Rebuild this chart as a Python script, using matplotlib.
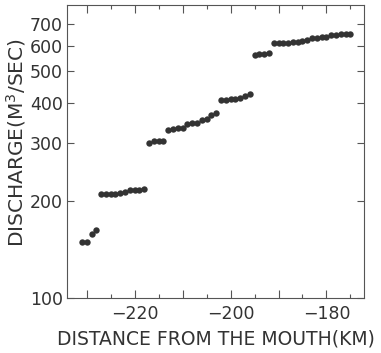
"""Discharge along the river vs distance from the mouth."""

import matplotlib

matplotlib.use("Agg")
import matplotlib.pyplot as plt
from matplotlib.ticker import FixedLocator, FixedFormatter, NullLocator

# distance from the mouth (km) and discharge (m3/s)
distance_km = [
    -231, -230, -229, -228,
    -227, -226, -225, -224, -223, -222, -221, -220, -219, -218,
    -217, -216, -215, -214,
    -213, -212, -211, -210,
    -209, -208, -207, -206, -205, -204, -203,
    -202, -201, -200, -199, -198, -197, -196,
    -195, -194, -193, -192,
    -191, -190, -189, -188, -187, -186, -185, -184, -183, -182, -181,
    -180, -179, -178, -177, -176, -175,
]
discharge = [
    149, 149, 158, 162,
    209, 209, 209, 209, 211, 213, 215, 215, 216, 217,
    300, 306, 306, 305,
    330, 333, 334, 334,
    344, 346, 347, 354, 356, 367, 372,
    407, 409, 411, 412, 414, 421, 426,
    562, 566, 567, 569,
    612, 612, 611, 612, 614, 616, 618, 622, 633, 634, 636,
    638, 645, 648, 650, 652, 652,
]

y_ticks = [100, 200, 300, 400, 500, 600, 700]
x_major = [-230, -220, -210, -200, -190, -180]
x_major_labels = ["", "\u2212220", "", "\u2212200", "", "\u2212180"]
x_minor = [-225, -215, -205, -195, -185, -175]

plt.rcParams.update(
    {
        "font.family": "DejaVu Sans",
        "font.size": 12,
        "axes.linewidth": 0.8,
        "axes.edgecolor": "#555555",
        "xtick.color": "#555555",
        "ytick.color": "#555555",
        "xtick.labelcolor": "#333333",
        "ytick.labelcolor": "#333333",
    }
)

fig = plt.figure(figsize=(3.81, 3.53), dpi=100)
ax = fig.add_axes([0.176, 0.155, 0.779, 0.831])

ax.plot(distance_km, discharge, linestyle="none", marker="o", markersize=4.6,
        color="#333333", markeredgewidth=0)

ax.set_yscale("log")
ax.set_xlim(-234.1, -172.2)
ax.set_ylim(100, 800)

ax.yaxis.set_major_locator(FixedLocator(y_ticks))
ax.yaxis.set_major_formatter(FixedFormatter([str(v) for v in y_ticks]))
ax.yaxis.set_minor_locator(NullLocator())

ax.xaxis.set_major_locator(FixedLocator(x_major))
ax.xaxis.set_major_formatter(FixedFormatter(x_major_labels))
ax.xaxis.set_minor_locator(FixedLocator(x_minor))

ax.tick_params(which="both", direction="in", top=True, right=True, labelsize=12.5)
ax.tick_params(axis="x", which="both", pad=5)
ax.tick_params(axis="y", which="both", pad=3)
ax.tick_params(axis="x", which="major", length=6, width=0.8)
ax.tick_params(axis="x", which="minor", length=3, width=0.8)
ax.tick_params(axis="y", which="major", length=5, width=0.8)

ax.set_xlabel("DISTANCE FROM THE MOUTH(KM)", fontsize=13.5, color="#333333")
ax.set_ylabel("DISCHARGE(M$^3$/SEC)", fontsize=14.5, color="#333333")
ax.xaxis.set_label_coords(0.5, -0.105)
ax.yaxis.set_label_coords(-0.13, 0.53)

fig.savefig("out.png", dpi=100)
